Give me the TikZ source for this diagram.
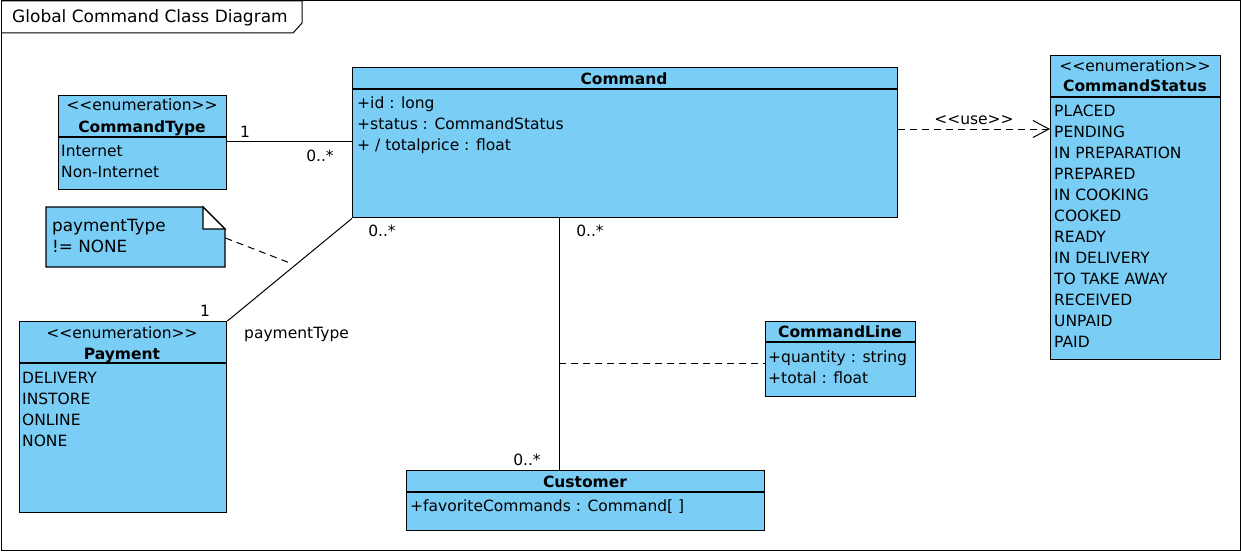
\documentclass[tikz,border=0pt]{standalone}
\usepackage{fontspec}
\setmainfont{DejaVu Sans}
\usetikzlibrary{arrows.meta}
\definecolor{cblue}{RGB}{122,205,244}
\begin{document}
\begin{tikzpicture}[x=1pt,y=-1pt,
  cls/.style={draw=black, fill=cblue, line width=1.4pt, inner sep=0pt, anchor=north west},
  sep/.style={draw=black, line width=1.4pt},
  txt/.style={inner sep=0pt, anchor=base west, font=\fontsize{15.5}{18}\selectfont},
  ctr/.style={inner sep=0pt, anchor=base, font=\fontsize{15.5}{18}\selectfont},
  bld/.style={inner sep=0pt, anchor=base, font=\fontsize{15.5}{18}\selectfont\bfseries},
  notetxt/.style={inner sep=0pt, anchor=base west, font=\fontsize{16.8}{19}\selectfont},
  assoc/.style={draw=black, line width=1pt},
  dep/.style={draw=black, line width=1pt, dash pattern=on 7pt off 5pt},
]
\useasboundingbox (0,0) rectangle (1241,551);
\fill[white] (0,0) rectangle (1241,551);
% frame
\draw[line width=1pt] (1,1) rectangle (1240,550);
\draw[line width=1pt] (1,1) -- (302,1) -- (302,23) -- (293,33) -- (1,33);
\node[txt, font=\fontsize{17}{20}\selectfont] (title) at (12,23) {Global Command Class Diagram};

% CommandType
\node[cls, minimum width=168pt, minimum height=94pt] (ctype) at (58,95) {};
\draw[sep] (ctype.west |- 0,137) -- (ctype.east |- 0,137);
\node[ctr] (ctypeS) at (142,110) {<{}<enumeration>{}>};
\node[bld] (ctypeN) at (142,132) {CommandType};
\node[txt] (ct1) at (61,156) {Internet};
\node[txt] (ct2) at (61,177) {Non-Internet};

% Command
\node[cls, minimum width=545pt, minimum height=150pt] (cmd) at (352,67) {};
\draw[sep] (cmd.west |- 0,89) -- (cmd.east |- 0,89);
\node[bld] (cmdN) at (624,84) {Command};
\node[txt] (c1) at (357,108) {+id : long};
\node[txt] (c2) at (357,129) {+status : CommandStatus};
\node[txt] (c3) at (357,150) {+ / totalprice : float};

% CommandStatus
\node[cls, minimum width=170pt, minimum height=304pt] (cstat) at (1050,55) {};
\draw[sep] (cstat.west |- 0,97) -- (cstat.east |- 0,97);
\node[ctr] (csS) at (1135,71) {<{}<enumeration>{}>};
\node[bld] (csN) at (1135,92) {CommandStatus};
\foreach \t [count=\i from 0] in {PLACED,PENDING,IN PREPARATION,PREPARED,IN COOKING,COOKED,READY,IN DELIVERY,TO TAKE AWAY,RECEIVED,UNPAID,PAID}
  \node[txt] (cs\i) at (1054,116+21*\i) {\t};

% Note
\node[inner sep=0pt, minimum width=179pt, minimum height=60pt, anchor=north west] (note) at (46,207) {};
\filldraw[fill=cblue, draw=black, line width=1.4pt] (46,207) -- (203,207) -- (225,229) -- (225,267) -- (46,267) -- cycle;
\filldraw[fill=white, draw=black, line width=1.2pt] (203,207) -- (203,229) -- (225,229) -- cycle;
\node[notetxt] (n1) at (52,231) {paymentType};
\node[notetxt] (n2) at (52,252) {!= NONE};

% Payment
\node[cls, minimum width=207pt, minimum height=191pt] (pay) at (19,321) {};
\draw[sep] (pay.west |- 0,363) -- (pay.east |- 0,363);
\node[ctr] (payS) at (122,338) {<{}<enumeration>{}>};
\node[bld] (payN) at (122,359) {Payment};
\node[txt] (p1) at (22,383) {DELIVERY};
\node[txt] (p2) at (22,404) {INSTORE};
\node[txt] (p3) at (22,425) {ONLINE};
\node[txt] (p4) at (22,446) {NONE};

% CommandLine
\node[cls, minimum width=150pt, minimum height=75pt] (cline) at (765,321) {};
\draw[sep] (cline.west |- 0,342) -- (cline.east |- 0,342);
\node[bld] (clN) at (840,337) {CommandLine};
\node[txt] (cl1) at (768,362) {+quantity : string};
\node[txt] (cl2) at (768,383) {+total : float};

% Customer
\node[cls, minimum width=358pt, minimum height=60pt] (cust) at (406,470) {};
\draw[sep] (cust.west |- 0,492) -- (cust.east |- 0,492);
\node[bld] (custN) at (585,487) {Customer};
\node[txt] (cu1) at (410,511) {+favoriteCommands : Command[ ]};

% connectors
\coordinate (ytype) at (0,141);
\draw[assoc] (ctype.east |- ytype) -- (cmd.west |- ytype);
\node[ctr] (m1) at (245,137) {1};
\node[ctr] (m2) at (320,161) {0..*};

\draw[assoc] (cmd.south west) -- (pay.north east);
\node[ctr] (m3) at (382,236) {0..*};
\node[ctr] (m4) at (205,316) {1};
\node[txt] (role) at (244,338) {paymentType};

\coordinate (pm) at (290,263);
\coordinate (ynote) at (0,238);
\draw[dep] (note.east |- ynote) -- (pm);

\coordinate (xv) at (559,0);
\draw[assoc] (cmd.south -| xv) -- (cust.north -| xv);
\node[ctr] (m5) at (590,236) {0..*};
\node[ctr] (m6) at (527,465) {0..*};

\coordinate (ac) at (559,363);
\draw[dep] (ac) -- (cline.west |- ac);

\coordinate (yuse) at (0,129);
\draw[dep, -{Straight Barb[length=16pt,width=17pt,line width=1pt]}] (cmd.east |- yuse) -- (cstat.west |- yuse);
\node[ctr] (use) at (974,124) {<{}<use>{}>};
\end{tikzpicture}
\end{document}
